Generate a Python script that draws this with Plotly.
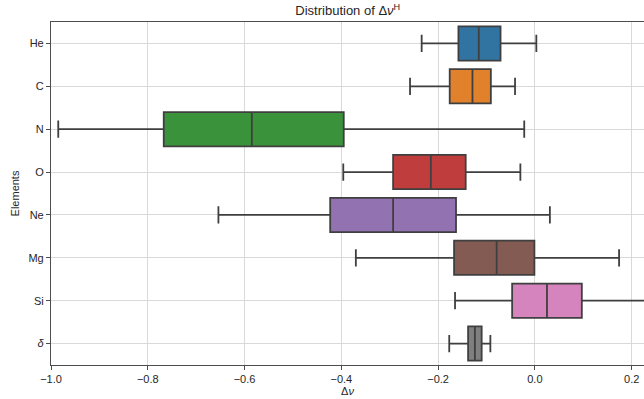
import plotly.graph_objects as go

elements = ["He", "C", "N", "O", "Ne", "Mg", "Si", "δ"]
tick_labels = ["He", "C", "N", "O", "Ne", "Mg", "Si", "<i>δ</i>"]
lower_whisker = [-0.234, -0.258, -0.985, -0.396, -0.654, -0.370, -0.165, -0.177]
q1_vals = [-0.158, -0.176, -0.767, -0.293, -0.423, -0.167, -0.047, -0.138]
median_vals = [-0.116, -0.129, -0.585, -0.215, -0.293, -0.079, 0.025, -0.124]
q3_vals = [-0.071, -0.091, -0.395, -0.143, -0.163, -0.001, 0.097, -0.110]
upper_whisker = [0.003, -0.041, -0.022, -0.030, 0.031, 0.174, 0.26, -0.092]
colors = ["#3274a1", "#e1812c", "#3a923a", "#c03d3e", "#9372b2", "#845b53", "#d684bd", "#7f7f7f"]

fig = go.Figure()
for i, el in enumerate(elements):
    fig.add_trace(go.Box(
        y=[el], orientation="h",
        q1=[q1_vals[i]], median=[median_vals[i]], q3=[q3_vals[i]],
        lowerfence=[lower_whisker[i]], upperfence=[upper_whisker[i]],
        fillcolor=colors[i], line=dict(color="#3f3f3f", width=1.8),
        width=0.8, whiskerwidth=0.5, boxpoints=False, showlegend=False,
        hoverinfo="skip",
    ))

font = "Liberation Sans, Arial, sans-serif"
fig.update_layout(
    width=644, height=399,
    margin=dict(l=51, r=0, t=22, b=34, autoexpand=False),
    plot_bgcolor="white", paper_bgcolor="white",
    boxmode="overlay",
    font=dict(family=font, size=11, color="#262626"),
    title=dict(text="Distribution of Δ<i>ν</i><sup>H</sup>", x=0.54, xanchor="center",
               y=0.985, yanchor="top", font=dict(size=13, color="#262626")),
    xaxis=dict(
        range=[-1.0, 0.2255], tickvals=[-1.0, -0.8, -0.6, -0.4, -0.2, 0.0, 0.2],
        ticktext=["−1.0", "−0.8", "−0.6", "−0.4", "−0.2", "0.0", "0.2"],
        showgrid=True, gridcolor="#d9d9d9", gridwidth=1,
        showline=True, linecolor="#4d4d4d", linewidth=1.2, mirror=True,
        ticks="outside", ticklen=4, tickcolor="#4d4d4d", zeroline=False,
        automargin=False,
        title=dict(text="Δ<i>ν</i>", standoff=2, font=dict(size=11)),
    ),
    yaxis=dict(
        type="category", categoryorder="array", categoryarray=elements,
        tickvals=elements, ticktext=tick_labels,
        range=[7.5, -0.5],
        showgrid=True, gridcolor="#d9d9d9", gridwidth=1,
        showline=True, linecolor="#4d4d4d", linewidth=1.2,
        ticks="outside", ticklen=4, tickcolor="#4d4d4d", zeroline=False,
        automargin=False,
        title=dict(text="Elements", standoff=6, font=dict(size=11)),
    ),
)

fig.write_html("out.html", config={"displayModeBar": False},
               post_script="document.body.style.margin='0';document.body.style.overflow='hidden';")
